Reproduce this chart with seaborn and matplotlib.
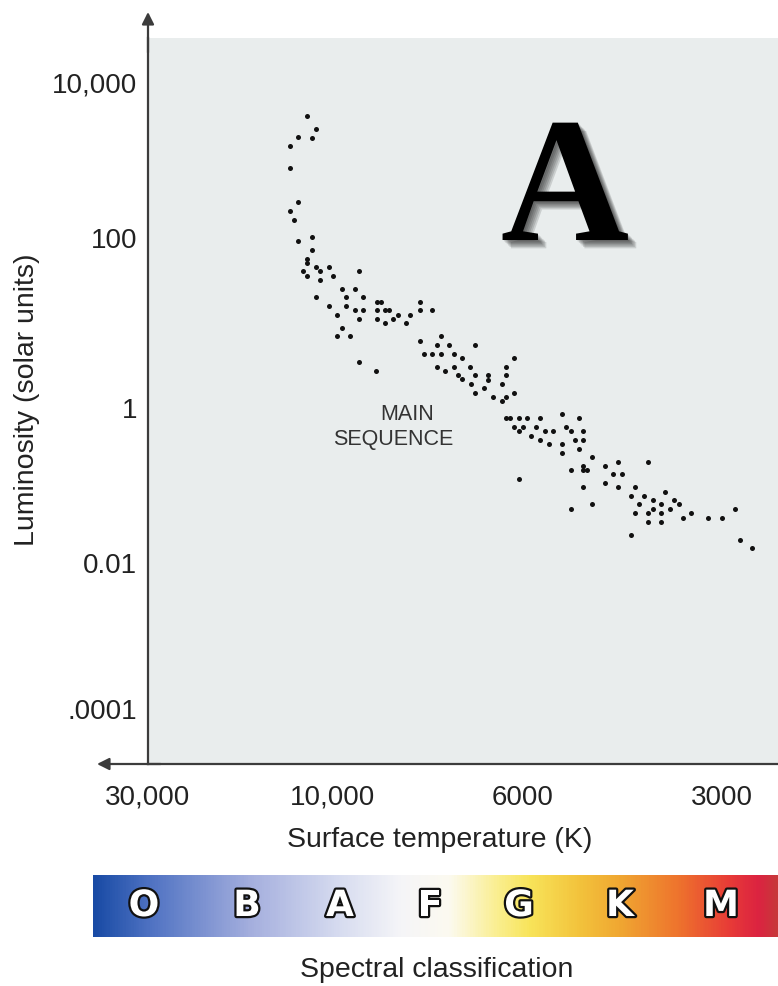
import numpy as np
import pandas as pd
import matplotlib
matplotlib.use("Agg")
import matplotlib.pyplot as plt
import seaborn as sns
from matplotlib import patheffects as pe
from matplotlib.colors import LinearSegmentedColormap

# ---- data -----------------------------------------------------------------
temperature_k = [
    11650, 11060, 12290, 11350, 12910, 12910, 12290, 12910, 12580, 12290,
    11350, 11350, 11650, 11650, 11060, 10800, 11970, 11650, 10260, 9990,
    10800, 9330, 9770, 9430, 11060, 9660, 9220, 8890, 8800, 7920,
    10260, 9660, 9430, 9220, 8890, 8700, 8600, 7920, 7660, 9890,
    8400, 8120, 9330, 8890, 8500, 8700, 8220, 9770, 9890, 9550,
    7920, 7480, 7570, 7320, 6820, 7830, 7660, 7480, 7220, 7060,
    9330, 8900, 7570, 7400, 7220, 6910, 7140, 7060, 6820, 6900,
    6590, 6590, 6660, 6820, 6280, 6280, 6350, 6500, 6350, 6280,
    6140, 6140, 6280, 6210, 6070, 5910, 5650, 6140, 6000, 6070,
    5730, 5830, 5560, 5400, 5650, 5480, 5240, 5160, 5080, 4940,
    4860, 5010, 4860, 5240, 4940, 5240, 6070, 4710, 4860, 4860,
    4800, 5080, 4860, 5080, 4710, 4510, 4310, 4380, 4250, 4510,
    4310, 3880, 4060, 4120, 3940, 4000, 3820, 4060, 3880, 3820,
    3710, 3710, 3660, 3550, 3490, 3600, 3880, 3710, 3440, 3340,
    4120, 3150, 3000, 2870, 2820, 2700,
]

luminosity_lsun = [
    3790, 2550, 1990, 1970, 1530, 800, 289, 223, 172, 91.4,
    103, 72.2, 57.1, 51.2, 45.6, 40.6, 40.6, 36.0, 45.6, 36.0,
    32.1, 40.6, 25.3, 25.3, 20.1, 20.1, 20.1, 17.8, 17.8, 17.8,
    15.9, 15.9, 14.1, 14.1, 14.1, 14.1, 14.1, 14.1, 14.1, 12.5,
    12.5, 12.5, 11.2, 11.2, 11.2, 9.92, 9.92, 8.81, 6.98, 6.98,
    6.19, 6.98, 5.51, 5.51, 5.51, 4.35, 4.35, 4.35, 4.35, 3.88,
    3.45, 2.72, 3.06, 2.72, 3.06, 3.06, 2.42, 2.19, 2.42, 1.92,
    2.42, 2.16, 1.70, 1.52, 3.06, 2.42, 1.92, 1.36, 1.21, 1.36,
    3.88, 1.52, 0.736, 0.736, 0.736, 0.736, 0.736, 0.568, 0.568, 0.500,
    0.568, 0.439, 0.500, 0.500, 0.387, 0.340, 0.829, 0.568, 0.500, 0.736,
    0.500, 0.387, 0.387, 0.340, 0.298, 0.263, 0.122, 0.231, 0.178, 0.158,
    0.158, 0.158, 0.0948, 0.0497, 0.0569, 0.178, 0.203, 0.139, 0.139, 0.108,
    0.0948, 0.203, 0.0948, 0.0732, 0.0732, 0.0569, 0.0644, 0.0438, 0.0438, 0.0497,
    0.0569, 0.0438, 0.0824, 0.0644, 0.0569, 0.0497, 0.0338, 0.0338, 0.0381, 0.0438,
    0.0230, 0.0381, 0.0381, 0.0497, 0.0200, 0.0156,
]

x_ticks = [30000, 10000, 6000, 3000]
x_tick_labels = ["30,000", "10,000", "6000", "3000"]
y_ticks = [1e4, 1e2, 1, 1e-2, 1e-4]
y_tick_labels = ["10,000", "100", "1", "0.01", ".0001"]
spectral_classes = ["O", "B", "A", "F", "G", "K", "M"]

df = pd.DataFrame({"temperature": temperature_k, "luminosity": luminosity_lsun})

# ---- axis scales: piecewise-logarithmic, ticks evenly spread ---------------
def piecewise(v, xp, fp):
    v = np.asarray(v, dtype=float)
    out = np.interp(v, xp, fp)
    lo = v < xp[0]
    hi = v > xp[-1]
    out = np.where(lo, fp[0] + (v - xp[0]) * (fp[1] - fp[0]) / (xp[1] - xp[0]), out)
    out = np.where(hi, fp[-1] + (v - xp[-1]) * (fp[-1] - fp[-2]) / (xp[-1] - xp[-2]), out)
    return out

# temperature: increasing transform, the axis itself is inverted via limits
X_LOG = [float(np.log10(t)) for t in sorted(x_ticks)]
X_POS = [-574.0, -375.0, -185.0, 0.0]
Y_LOG = [-4.0, -2.0, 0.0, 2.0, 4.0]
Y_POS = [0.0, 146.0, 301.0, 471.0, 626.0]


def x_fwd(t):
    t = np.clip(np.asarray(t, dtype=float), 1e-12, None)
    return piecewise(np.log10(t), X_LOG, X_POS)


def x_inv(p):
    return 10.0 ** piecewise(p, X_POS, X_LOG)


def y_fwd(v):
    v = np.clip(np.asarray(v, dtype=float), 1e-30, None)
    return piecewise(np.log10(v), Y_LOG, Y_POS)


def y_inv(p):
    return 10.0 ** piecewise(p, Y_POS, Y_LOG)


# ---- figure ---------------------------------------------------------------
sns.set_theme(style="white")
plt.rcParams["font.family"] = ["Liberation Sans", "DejaVu Sans"]

W, H = 778, 986
fig = plt.figure(figsize=(W / 100, H / 100), dpi=100)
fig.patch.set_facecolor("white")

ax = fig.add_axes([148 / W, 1 - 764 / H, 630 / W, 726 / H])
ax.set_facecolor("#e9eded")

sns.scatterplot(data=df, x="temperature", y="luminosity", ax=ax,
                color="#111111", s=13, linewidth=0, legend=False, zorder=3)

ax.set_xscale("function", functions=(x_fwd, x_inv))
ax.set_yscale("function", functions=(y_fwd, y_inv))
ax.set_xlim(float(x_inv(0.0)), float(x_inv(-630.0)))
ax.set_ylim(float(y_inv(-55.0)), float(y_inv(671.0)))

ax.set_xticks(x_ticks, labels=x_tick_labels)
ax.set_yticks(y_ticks, labels=y_tick_labels)
ax.minorticks_off()

axis_col = "#3c3c3c"
ax.tick_params(axis="both", direction="in", length=15, width=1.3,
               color=axis_col, labelcolor="#222222", labelsize=20)
ax.tick_params(axis="x", pad=15)
ax.tick_params(axis="y", pad=8)

for side in ("top", "right"):
    ax.spines[side].set_visible(False)
for side in ("left", "bottom"):
    ax.spines[side].set_color(axis_col)
    ax.spines[side].set_linewidth(1.6)

# arrow tips on the two axes
arrow_kw = dict(arrowstyle="-|>", color=axis_col, lw=1.6,
                mutation_scale=18, shrinkA=0, shrinkB=0)
ax.annotate("", xy=(0, (764 - 12) / 726), xytext=(0, 0.98),
            xycoords="axes fraction", textcoords="axes fraction",
            arrowprops=arrow_kw, annotation_clip=False)
ax.annotate("", xy=((97 - 148) / 630, 0), xytext=(0.02, 0),
            xycoords="axes fraction", textcoords="axes fraction",
            arrowprops=arrow_kw, annotation_clip=False)

ax.set_xlabel("Surface temperature (K)", fontsize=20.5, color="#222222", va="center")
ax.xaxis.set_label_coords((440 - 148) / 630, -(840 - 764) / 726)
ax.set_ylabel("Luminosity (solar units)", fontsize=20.5, color="#222222", va="center")
ax.yaxis.set_label_coords((27 - 148) / 630, (764 - 400) / 726)

ax.text((406.7 - 148) / 630, (764 - 414) / 726, "MAIN", transform=ax.transAxes,
        ha="center", va="center", fontsize=15.5, color="#333333")
ax.text((393.5 - 148) / 630, (764 - 439) / 726, "SEQUENCE", transform=ax.transAxes,
        ha="center", va="center", fontsize=15.5, color="#333333")

# big panel letter with a soft drop shadow
shadow = [pe.SimplePatchShadow(offset=(d, -d), shadow_rgbFace="black", alpha=0.13)
          for d in (1.0, 2.0, 3.0, 4.0, 5.0, 6.0)]
fig.text(565 / W, 1 - 240 / H, "A", ha="center", va="baseline",
         fontsize=128, fontweight="bold", family="Liberation Serif",
         color="black", path_effects=shadow + [pe.Normal()])

# ---- spectral classification strip ----------------------------------------
stops = [
    (0.000, "#194ba5"), (0.083, "#5073c3"), (0.229, "#a5afde"),
    (0.360, "#d7dcf0"), (0.448, "#f5f5f8"), (0.520, "#fcfaf0"),
    (0.594, "#faee8c"), (0.638, "#f8e45a"), (0.711, "#f3c33c"),
    (0.769, "#f0a832"), (0.857, "#ee732d"), (0.930, "#e83c37"),
    (0.974, "#dc2341"), (1.000, "#c8373a"),
]
strip_cmap = LinearSegmentedColormap.from_list("spectral_strip", stops)

bar = fig.add_axes([93 / W, 1 - 937 / H, 685 / W, 62 / H])
bar.imshow(np.linspace(0, 1, 600)[None, :], aspect="auto", cmap=strip_cmap,
           extent=[0, 1, 0, 1])
bar.set_xlim(0, 1)
bar.set_ylim(0, 1)
bar.axis("off")

letter_x = [144, 247, 340, 430, 519, 620, 721]
for lx, cls in zip(letter_x, spectral_classes):
    bar.text((lx - 93) / 685, 0.5, cls, ha="center", va="center",
             fontsize=26, fontweight="bold", family="DejaVu Sans", color="white",
             path_effects=[pe.Stroke(linewidth=3.2, foreground="#111111"), pe.Normal()])

fig.text(437 / W, 1 - 970 / H, "Spectral classification", ha="center", va="center",
         fontsize=20.5, color="#222222")

fig.savefig("out.png", dpi=100)
